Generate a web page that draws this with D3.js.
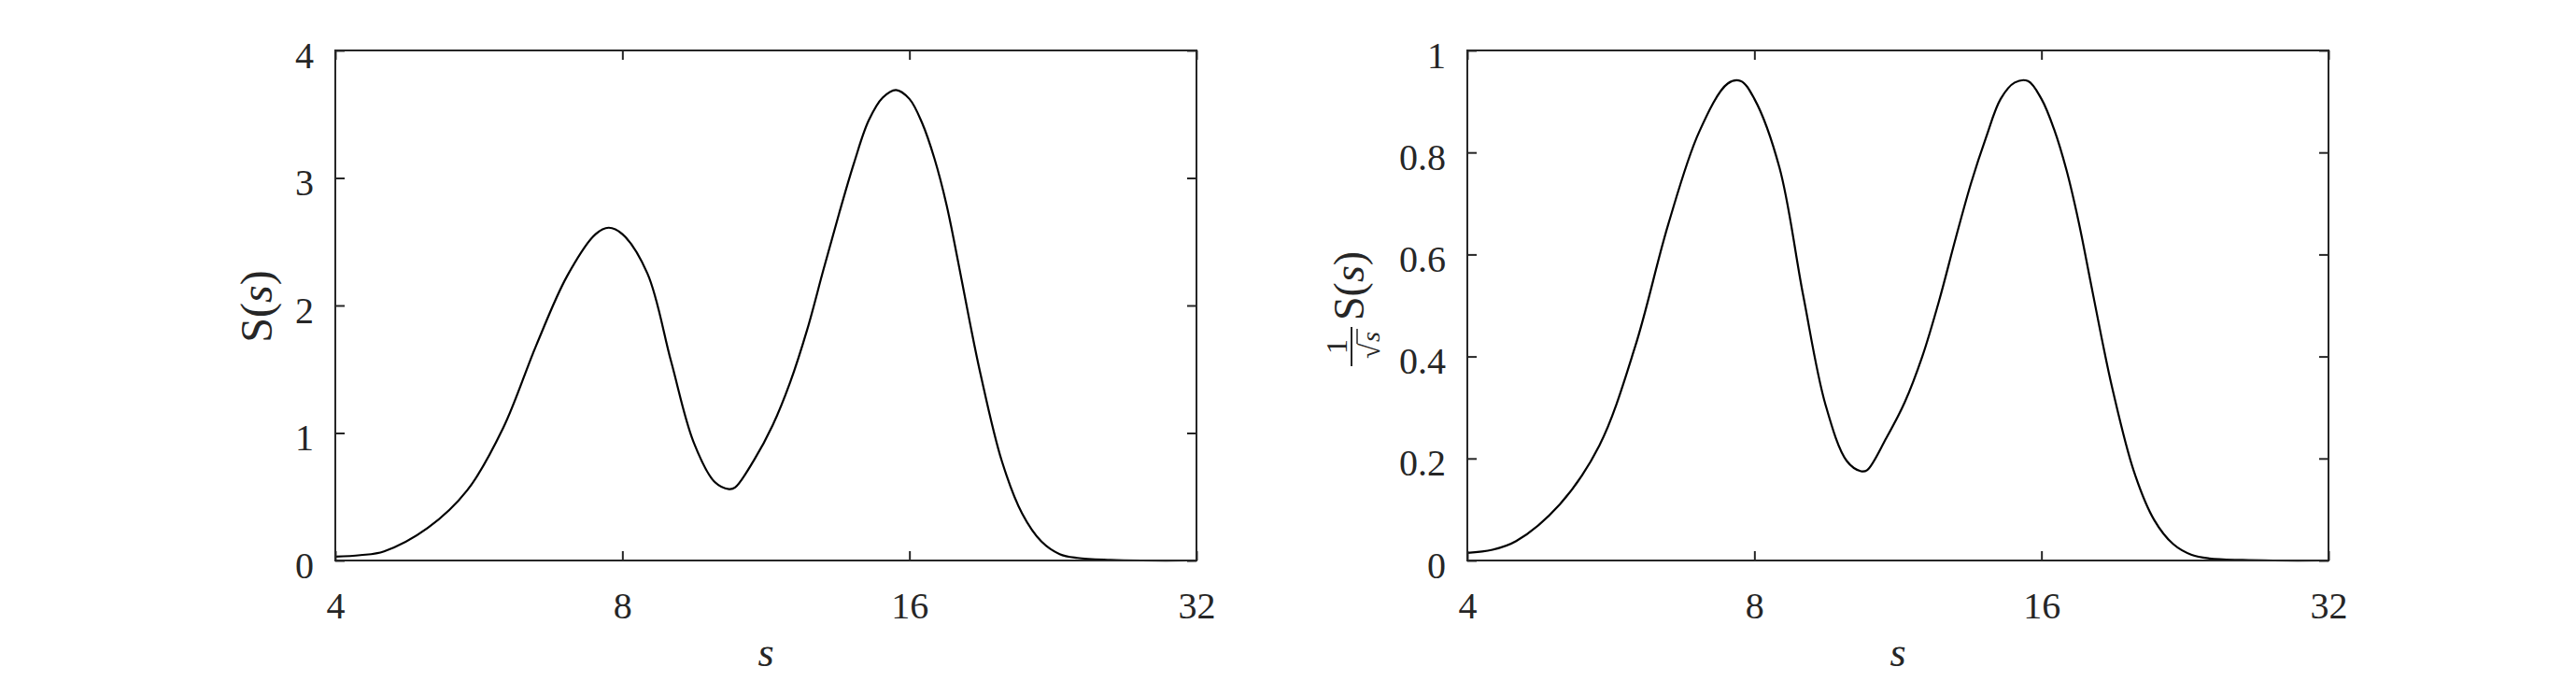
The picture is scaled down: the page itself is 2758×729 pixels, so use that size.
<!DOCTYPE html>
<meta charset="utf-8">
<head>
  <meta charset="utf-8">
  <title>S(s)</title>
  <style>
    body { margin: 0; background: #fff; }
    text { font-family: "Liberation Serif", "Times New Roman", serif; fill: #262626; }
  </style>
</head>
<body>
<script src="https://cdn.jsdelivr.net/npm/d3@7"></script>
<script>

// values
var sValues = [4, 4.25, 4.5, 5, 5.5, 6, 6.5, 7, 7.5, 7.74, 8, 8.5, 9, 9.5, 10, 10.35, 10.5, 11, 11.5,
               12, 12.5, 13, 13.5, 14, 14.5, 15, 15.49, 16, 16.5, 17, 17.5, 18, 18.5, 19, 20,
               21, 22, 23, 24, 26, 28, 32];
var sCurve = [0.03, 0.042, 0.072, 0.255, 0.55, 1.04, 1.69, 2.23, 2.56, 2.61, 2.56, 2.25, 1.56, 0.93, 0.615, 0.56, 0.572, 0.79, 1.06,
              1.40, 1.81, 2.28, 2.72, 3.12, 3.45, 3.63, 3.69, 3.62, 3.43, 3.15, 2.79, 2.34, 1.88, 1.46, 0.78,
              0.37, 0.15, 0.05, 0.02, 0.005, 0, 0];
var scaledCurve = [0.015, 0.021, 0.038, 0.11, 0.225, 0.42, 0.66, 0.84, 0.935, 0.94, 0.905, 0.77, 0.52, 0.305, 0.195, 0.175, 0.177, 0.24, 0.31,
                   0.40, 0.51, 0.63, 0.74, 0.83, 0.905, 0.937, 0.94, 0.905, 0.845, 0.765, 0.665, 0.55, 0.437, 0.335, 0.175,
                   0.08, 0.032, 0.011, 0.004, 0.001, 0, 0];
var xTicks = [4, 8, 16, 32];
var yTicksLeft = [0, 1, 2, 3, 4];
var yTicksRight = [0, 0.2, 0.4, 0.6, 0.8, 1];

var width = 2758, height = 729;
var plotTop = 54, plotBottom = 600;
var ink = "#262626";

var svg = d3.select("body").append("svg")
    .attr("width", width)
    .attr("height", height);

svg.append("rect").attr("width", width).attr("height", height).attr("fill", "#fff");

function panel(left, right, values, yMax, yTicks) {
  var x = d3.scaleLog().base(2).domain([4, 32]).range([left, right]);
  var y = d3.scaleLinear().domain([0, yMax]).range([plotBottom, plotTop]);
  var fmt = function(d) { return String(+d.toFixed(1)); };

  var g = svg.append("g");

  // curve
  var line = d3.line()
      .x(function(d, i) { return x(sValues[i]); })
      .y(function(d) { return y(d); })
      .curve(d3.curveCatmullRom.alpha(0.5));

  g.append("path")
      .datum(values)
      .attr("fill", "none")
      .attr("stroke", "#000")
      .attr("stroke-width", 2.2)
      .attr("d", line);

  // bottom axis with labels, ticks pointing in
  var xb = g.append("g")
      .attr("transform", "translate(0," + plotBottom + ")")
      .call(d3.axisBottom(x).tickValues(xTicks).tickFormat(function(d) { return d; })
            .tickSize(-10).tickPadding(34));
  // top axis, ticks only
  var xt = g.append("g")
      .attr("transform", "translate(0," + plotTop + ")")
      .call(d3.axisTop(x).tickValues(xTicks).tickFormat("").tickSize(-10));
  var yl = g.append("g")
      .attr("transform", "translate(" + left + ",0)")
      .call(d3.axisLeft(y).tickValues(yTicks).tickFormat(fmt).tickSize(-10).tickPadding(23));
  var yr = g.append("g")
      .attr("transform", "translate(" + right + ",0)")
      .call(d3.axisRight(y).tickValues(yTicks).tickFormat("").tickSize(-10));

  [xb, xt, yl, yr].forEach(function(a) {
    a.select(".domain").remove();
    a.selectAll("line").attr("stroke", ink).attr("stroke-width", 2);
    a.selectAll("text").style("font-size", "40px").attr("fill", ink);
  });
  xb.selectAll("text").attr("dy", "0.71em");
  yl.selectAll("text").attr("dy", "0.45em");

  // box
  g.append("rect")
      .attr("x", left).attr("y", plotTop)
      .attr("width", right - left).attr("height", plotBottom - plotTop)
      .attr("fill", "none")
      .attr("stroke", ink)
      .attr("stroke-width", 2);

  // x label
  g.append("text")
      .attr("x", (left + right) / 2)
      .attr("y", 713)
      .attr("text-anchor", "middle")
      .style("font-size", "44px")
      .style("font-style", "italic")
      .text("s");

  return g;
}

panel(359, 1281, sCurve, 4, yTicksLeft);
panel(1571, 2493, scaledCurve, 1, yTicksRight);

// y label, left panel
var ylab1 = svg.append("g").attr("transform", "translate(277,328) rotate(-90)");
var t1 = ylab1.append("text").attr("text-anchor", "middle").attr("y", 14).style("font-size", "48px");
t1.append("tspan").text("S(");
t1.append("tspan").style("font-style", "italic").text("s");
t1.append("tspan").text(")");

// y label, right panel: 1/sqrt(s) S(s)
var ylab2 = svg.append("g").attr("transform", "translate(1447,326) rotate(-90)");
ylab2.append("line")
    .attr("x1", -66).attr("x2", -24).attr("y1", 0).attr("y2", 0)
    .attr("stroke", ink).attr("stroke-width", 2);
ylab2.append("text").attr("x", -45).attr("y", -5).attr("text-anchor", "middle")
    .style("font-size", "32px").text("1");
ylab2.append("text").attr("x", -58).attr("y", 30).style("font-size", "30px").text("\u221A");
ylab2.append("text").attr("x", -40).attr("y", 30).style("font-size", "28px").style("font-style", "italic").text("s");
ylab2.append("line")
    .attr("x1", -42).attr("x2", -26).attr("y1", 6).attr("y2", 6)
    .attr("stroke", ink).attr("stroke-width", 1.5);
var t2 = ylab2.append("text").attr("x", -17).attr("y", 13).style("font-size", "46px");
t2.append("tspan").text("S(");
t2.append("tspan").style("font-style", "italic").text("s");
t2.append("tspan").text(")");

</script>
</body>
